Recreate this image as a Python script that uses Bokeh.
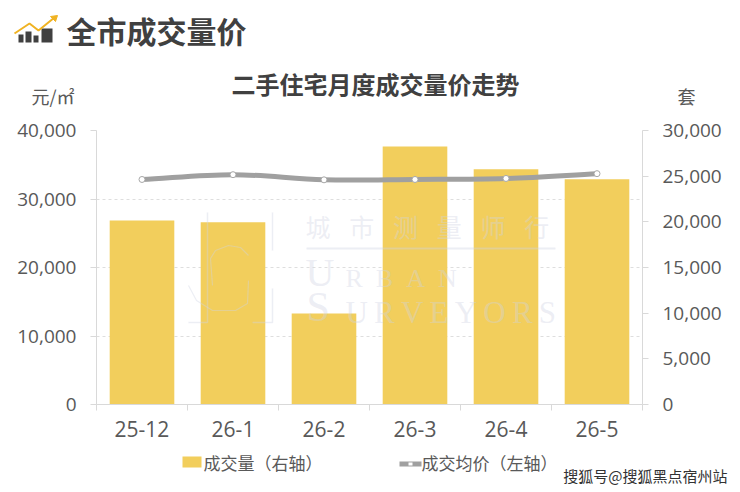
from bokeh.plotting import figure
from bokeh.layouts import column, row
from bokeh.models import (Range1d, LinearAxis, FixedTicker, Label, BoxAnnotation, PolyAnnotation,
                          NumeralTickFormatter, ColumnDataSource, Grid)
from bokeh.embed import file_html
from bokeh.resources import INLINE
import numpy as np

months = ["25-12", "26-1", "26-2", "26-3", "26-4", "26-5"]
volume = [20150, 19950, 9950, 28250, 25750, 24650]
price = [32850, 33550, 32800, 32850, 33000, 33700]
left_ticks = [0, 10000, 20000, 30000, 40000]
right_ticks = [0, 5000, 10000, 15000, 20000, 25000, 30000]

W = 740
H_HEAD, H_MAIN, H_FOOT = 118, 327, 47
FONT = "Noto Sans CJK SC"
NUM = "Open Sans"
INK = "#404040"
TICK = "#595959"
AX = "#d9d9d9"
BAR = "#f2ce5c"
LINE = "#a0a0a0"

xpos = np.arange(len(months)) + 0.5

p = figure(width=W, height=H_MAIN, output_backend="svg", toolbar_location=None,
           x_range=Range1d(0, len(months)), y_range=Range1d(0, 40000),
           min_border_left=96, min_border_right=98, min_border_top=12, min_border_bottom=41,
           x_axis_location=None, y_axis_location=None)
p.outline_line_color = None
p.extra_y_ranges = {"vol": Range1d(0, 30000)}

def style_y(ax):
    ax.formatter = NumeralTickFormatter(format="0,0")
    ax.axis_line_color = AX
    ax.major_tick_line_color = AX
    ax.major_tick_in = 0
    ax.major_tick_out = 6
    ax.minor_tick_line_color = None
    ax.major_label_text_font = NUM
    ax.major_label_text_font_size = "19px"
    ax.major_label_text_color = TICK
    ax.major_label_standoff = 14

la = LinearAxis(ticker=FixedTicker(ticks=left_ticks))
style_y(la)
p.add_layout(la, "left")
ra = LinearAxis(y_range_name="vol", ticker=FixedTicker(ticks=right_ticks))
style_y(ra)
p.add_layout(ra, "right")

xa = LinearAxis(ticker=FixedTicker(ticks=list(xpos), minor_ticks=list(range(len(months) + 1))))
xa.major_label_overrides = {float(x): m for x, m in zip(xpos, months)}
xa.axis_line_color = AX
xa.major_tick_line_color = None
xa.minor_tick_line_color = AX
xa.minor_tick_in = 0
xa.minor_tick_out = 6
xa.major_label_text_font = NUM
xa.major_label_text_font_size = "21px"
xa.major_label_text_color = TICK
xa.major_label_standoff = 10
p.add_layout(xa, "below")

p.xgrid.visible = False
p.ygrid.visible = False
p.add_layout(Grid(dimension=1, ticker=la.ticker, grid_line_color="#dedede",
                  grid_line_dash="3 3", grid_line_width=1), "center")

src = ColumnDataSource(dict(x=xpos, volume=volume, price=price))
p.vbar(x="x", top="volume", width=0.71, source=src, y_range_name="vol", fill_color=BAR, line_color=None)

# smooth price curve through the monthly values (Catmull-Rom to cubic Bezier)
px = np.array(xpos)
py = np.array(price, dtype=float)
tx = np.gradient(px)
ty = np.gradient(py)
k = 1 / 3
p.bezier(x0=px[:-1], y0=py[:-1], x1=px[1:], y1=py[1:],
         cx0=px[:-1] + tx[:-1] * k, cy0=py[:-1] + ty[:-1] * k,
         cx1=px[1:] - tx[1:] * k, cy1=py[1:] - ty[1:] * k,
         line_color=LINE, line_width=5)
p.scatter(x="x", y="price", source=src, size=6, fill_color="white", line_color="#a8a8a8", line_width=1)


def strip(height):
    f = figure(width=W, height=height, output_backend="svg", toolbar_location=None,
               x_range=Range1d(0, 1), y_range=Range1d(0, 1), min_border=0,
               x_axis_location=None, y_axis_location=None)
    f.outline_line_color = None
    f.xgrid.visible = False
    f.ygrid.visible = False
    return f

head = strip(H_HEAD)
foot = strip(H_FOOT)

# each figure with the picture position of its frame's lower-left corner
HEAD = (head, 0, H_HEAD)
MAIN = (p, 96, 404)
FOOT = (foot, 0, H_HEAD + H_MAIN + H_FOOT)

def lab(where, text, x, y, size, color=INK, bold=False, font=FONT, align="left", alpha=1.0):
    f, ox, oy = where
    f.add_layout(Label(x=x - ox, y=oy - y, x_units="screen", y_units="screen", text=text,
                       text_font=font, text_font_size=f"{size}px", text_color=color, text_alpha=alpha,
                       text_font_style="bold" if bold else "normal", text_align=align,
                       text_baseline="middle"))

def box(where, x0, y0, x1, y1, color, alpha=1.0):
    f, ox, oy = where
    f.add_layout(BoxAnnotation(left=x0 - ox, right=x1 - ox, top=oy - y0, bottom=oy - y1,
                               left_units="screen", right_units="screen", top_units="screen", bottom_units="screen",
                               fill_color=color, fill_alpha=alpha, line_color=None, level="overlay"))

def poly(where, pts, color, width=1.0, alpha=1.0, fill=None):
    f, ox, oy = where
    f.add_layout(PolyAnnotation(xs=[a - ox for a, b in pts], ys=[oy - b for a, b in pts],
                                xs_units="screen", ys_units="screen",
                                fill_color=fill, fill_alpha=0 if fill is None else alpha,
                                line_color=color, line_width=width, line_alpha=alpha, level="overlay"))

def path(where, pts, color, width=1.0, alpha=1.0):
    poly(where, pts + pts[-2:0:-1], color, width, alpha)

lab(HEAD, "全市成交量价", 66, 29, 30, bold=True)
lab(HEAD, "二手住宅月度成交量价走势", 375, 83, 24, bold=True, align="center")
lab(HEAD, "元/㎡", 74, 95, 18, align="right", color=TICK)
lab(HEAD, "套", 686, 95, 18, align="center", color=TICK)

# legend
box(FOOT, 182, 456, 201, 467, BAR)
lab(FOOT, "成交量（右轴）", 203, 462, 17, color=TICK)
box(FOOT, 399, 461, 421, 466, LINE)
box(FOOT, 408, 462, 412, 465, "white")
lab(FOOT, "成交均价（左轴）", 421, 462, 17, color=TICK)
lab(FOOT, "搜狐号@搜狐黑点宿州站", 727, 475, 15, align="right", color="#333333")

# header icon
for x0, y0, x1 in [(18, 34, 23), (25, 31, 31), (33, 35, 38), (41, 28, 52)]:
    box(HEAD, x0, y0, x1, 42, "#404040")
path(HEAD, [(14, 33), (29, 23), (38, 30), (54, 17)], "#f0b323", 2)
poly(HEAD, [(50, 16), (57, 15), (55, 21)], "#f0b323", 1, fill="#f0b323")

# faint watermark
WM = "#cfd4e3"
WA = 0.4
SERIF = "Liberation Serif"
lab(MAIN, "城\u2002\u2005市\u2002\u2005测\u2002\u2005量\u2002\u2005师\u2002\u2005行", 305, 225, 25, color=WM, alpha=WA)
box(MAIN, 306, 247, 555, 249, WM, WA)
lab(MAIN, "U", 305, 272, 40, color=WM, font=SERIF, alpha=WA)
lab(MAIN, "R\u2002B\u2002A\u2002N", 345, 278, 26, color=WM, font=SERIF, alpha=WA)
lab(MAIN, "S", 306, 306, 42, color=WM, font=SERIF, alpha=WA)
lab(MAIN, "U\u2009R\u2009V\u2009E\u2009Y\u2009O\u2009R\u2009S", 345, 312, 31, color=WM, font=SERIF, alpha=WA)
path(MAIN, [(207, 212), (207, 322), (188, 322)], WM, 1.5, WA)
path(MAIN, [(272, 212), (272, 250)], WM, 1.5, WA)
path(MAIN, [(272, 288), (272, 322), (252, 322)], WM, 1.5, WA)
path(MAIN, [(212, 285), (210, 258), (215, 250), (228, 245), (240, 247), (248, 255)], WM, 1.2, WA)
path(MAIN, [(188, 285), (196, 300), (212, 310), (235, 310), (247, 303), (248, 280)], WM, 1.2, WA)

page = column(row(head), row(p), row(foot), spacing=0)
open("out.html", "w").write(file_html(page, INLINE))
